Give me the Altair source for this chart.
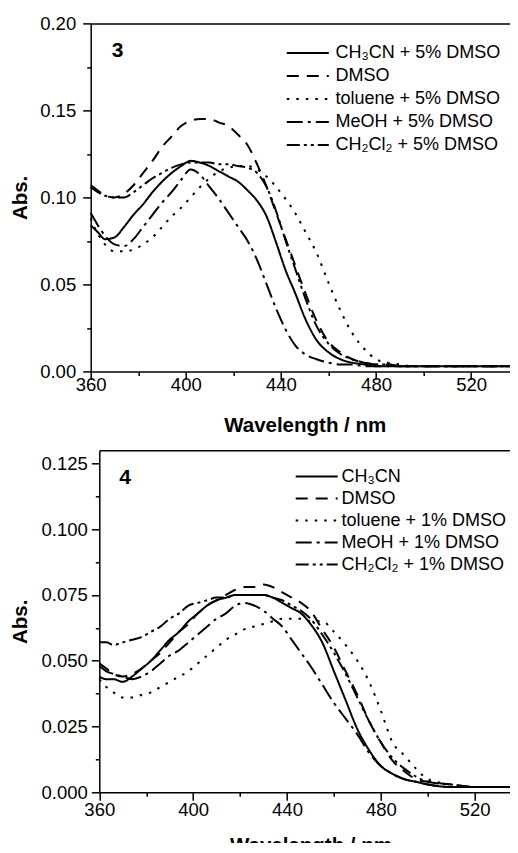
import altair as alt
import pandas as pd

wavelength = [360, 363, 366, 370, 374, 378, 382, 386, 390, 394, 398, 402, 406, 410,
              414, 418, 422, 426, 430, 434, 438, 442, 446, 450, 455, 460, 465, 470,
              475, 480, 485, 490, 495, 500, 510, 520, 530, 540]

# ---- compound 3 (top panel) ----
names_3 = ["CH\u2083CN + 5% DMSO", "DMSO", "toluene + 5% DMSO",
           "MeOH + 5% DMSO", "CH\u2082Cl\u2082 + 5% DMSO"]
ch3cn_3 = [0.084, 0.080, 0.076, 0.077, 0.083, 0.090, 0.096, 0.103, 0.109, 0.114, 0.118, 0.121,
           0.120, 0.118, 0.115, 0.112, 0.109, 0.104, 0.098, 0.089, 0.074, 0.058, 0.045, 0.031,
           0.018, 0.011, 0.007, 0.005, 0.004, 0.003, 0.003, 0.003, 0.003, 0.003, 0.003, 0.003,
           0.003, 0.003]
dmso_3 = [0.106, 0.103, 0.101, 0.100, 0.102, 0.107, 0.114, 0.121, 0.129, 0.135, 0.141, 0.144,
          0.145, 0.145, 0.143, 0.141, 0.136, 0.130, 0.119, 0.106, 0.091, 0.076, 0.061, 0.046,
          0.029, 0.017, 0.011, 0.007, 0.005, 0.004, 0.004, 0.003, 0.003, 0.003, 0.003, 0.003,
          0.003, 0.003]
toluene_3 = [0.088, 0.079, 0.073, 0.069, 0.069, 0.070, 0.073, 0.077, 0.083, 0.089, 0.094, 0.100,
             0.106, 0.111, 0.115, 0.117, 0.118, 0.118, 0.116, 0.112, 0.106, 0.099, 0.091, 0.081,
             0.068, 0.051, 0.035, 0.022, 0.013, 0.007, 0.005, 0.004, 0.003, 0.003, 0.003, 0.003,
             0.003, 0.003]
meoh_3 = [0.091, 0.084, 0.078, 0.073, 0.072, 0.076, 0.083, 0.090, 0.097, 0.103, 0.110, 0.116,
          0.113, 0.106, 0.099, 0.091, 0.083, 0.075, 0.064, 0.050, 0.036, 0.024, 0.015, 0.010,
          0.007, 0.005, 0.004, 0.004, 0.003, 0.003, 0.003, 0.003, 0.003, 0.003, 0.003, 0.003,
          0.003, 0.003]
ch2cl2_3 = [0.107, 0.104, 0.101, 0.100, 0.100, 0.103, 0.107, 0.111, 0.114, 0.117, 0.119, 0.120,
            0.120, 0.120, 0.119, 0.119, 0.118, 0.117, 0.114, 0.106, 0.092, 0.075, 0.059, 0.043,
            0.026, 0.016, 0.010, 0.007, 0.005, 0.004, 0.004, 0.003, 0.003, 0.003, 0.003, 0.003,
            0.003, 0.003]

# ---- compound 4 (bottom panel) ----
names_4 = ["CH\u2083CN", "DMSO", "toluene + 1% DMSO",
           "MeOH + 1% DMSO", "CH\u2082Cl\u2082 + 1% DMSO"]
ch3cn_4 = [0.044, 0.043, 0.043, 0.042, 0.044, 0.047, 0.050, 0.054, 0.058, 0.061, 0.065, 0.068,
           0.071, 0.073, 0.074, 0.075, 0.075, 0.075, 0.075, 0.074, 0.072, 0.070, 0.068, 0.064,
           0.057, 0.046, 0.035, 0.024, 0.016, 0.010, 0.007, 0.005, 0.004, 0.003, 0.002, 0.002,
           0.002, 0.002]
dmso_4 = [0.049, 0.047, 0.045, 0.044, 0.045, 0.047, 0.050, 0.053, 0.057, 0.061, 0.064, 0.068,
          0.071, 0.073, 0.075, 0.077, 0.078, 0.078, 0.079, 0.078, 0.076, 0.074, 0.072, 0.069,
          0.062, 0.055, 0.046, 0.037, 0.027, 0.019, 0.012, 0.008, 0.005, 0.004, 0.003, 0.002,
          0.002, 0.002]
toluene_4 = [0.043, 0.040, 0.038, 0.036, 0.036, 0.037, 0.038, 0.040, 0.042, 0.044, 0.046, 0.049,
             0.052, 0.055, 0.058, 0.060, 0.062, 0.063, 0.064, 0.065, 0.066, 0.066, 0.066, 0.065,
             0.065, 0.061, 0.056, 0.050, 0.042, 0.031, 0.019, 0.014, 0.009, 0.005, 0.003, 0.002,
             0.002, 0.002]
meoh_4 = [0.048, 0.046, 0.045, 0.044, 0.043, 0.044, 0.046, 0.049, 0.052, 0.054, 0.057, 0.060,
          0.063, 0.066, 0.068, 0.071, 0.072, 0.071, 0.069, 0.066, 0.063, 0.058, 0.053, 0.048,
          0.041, 0.034, 0.028, 0.022, 0.015, 0.010, 0.007, 0.005, 0.004, 0.003, 0.002, 0.002,
          0.002, 0.002]
ch2cl2_4 = [0.057, 0.057, 0.056, 0.057, 0.058, 0.059, 0.061, 0.063, 0.066, 0.068, 0.071, 0.072,
            0.073, 0.074, 0.074, 0.075, 0.075, 0.075, 0.075, 0.074, 0.073, 0.071, 0.069, 0.066,
            0.060, 0.053, 0.045, 0.036, 0.027, 0.019, 0.013, 0.009, 0.006, 0.004, 0.003, 0.002,
            0.002, 0.002]

x_ticks = [360, 380, 400, 420, 440, 460, 480, 500, 520, 540]
y_ticks_3 = [0.0, 0.025, 0.05, 0.075, 0.1, 0.125, 0.15, 0.175, 0.2]
y_ticks_4 = [0.0, 0.0125, 0.025, 0.0375, 0.05, 0.0625, 0.075, 0.0875, 0.1, 0.1125, 0.125]

dash_styles = [[1, 0], [12, 8], [2.5, 7], [16, 5, 3, 5], [13, 4, 3, 4, 3, 4]]

FONT = "Liberation Sans"


def panel(names, series, label, label_pos, y_max, y_ticks, y_test, y_fmt,
          width, height, x_range, y_offset, legend_x, legend_y, legend_row, label_gap,
          xlabel_pad, xtitle_pad, ylabel_pad, ytitle_pad):
    rows = []
    for name, vals in zip(names, series):
        for w, v in zip(wavelength, vals):
            rows.append({"wl": w, "a": v, "series": name})
    df = pd.DataFrame(rows)

    xscale = alt.Scale(domain=[360, 540], nice=False, zero=False, range=x_range)
    yscale = alt.Scale(domain=[0, y_max], nice=False, zero=True)
    x = alt.X("wl:Q", scale=xscale,
              axis=alt.Axis(orient="bottom", values=x_ticks, title="Wavelength / nm",
                            labelExpr="datum.value % 40 === 0 ? datum.label : ''",
                            tickSize={"condition": {"test": "datum.value % 40 === 0", "value": 8},
                                      "value": 4},
                            labelPadding=xlabel_pad, titlePadding=xtitle_pad,
                            labelOverlap=False))
    y = alt.Y("a:Q", scale=yscale,
              axis=alt.Axis(values=y_ticks, title="Abs.", offset=y_offset,
                            labelExpr=f"{y_test} ? format(datum.value, '{y_fmt}') : ''",
                            tickSize={"condition": {"test": y_test, "value": 8}, "value": 4},
                            labelPadding=ylabel_pad, titlePadding=ytitle_pad,
                            labelOverlap=False))
    # frame line along the top of the plot
    x_top = alt.X("wl:Q", scale=xscale,
                  axis=alt.Axis(orient="top", labels=False, ticks=False, title=None,
                                domain=True))

    lines = alt.Chart(df).mark_line(color="black", strokeWidth=2, interpolate="monotone",
                                    strokeCap="butt").encode(
        x=x, y=y,
        strokeDash=alt.StrokeDash(
            "series:N",
            scale=alt.Scale(domain=names, range=dash_styles),
            legend=alt.Legend(orient="none", legendX=legend_x, legendY=legend_y, title=None,
                              symbolType="stroke", symbolSize=1764, symbolStrokeWidth=2,
                              symbolStrokeColor="black", labelFont=FONT, labelFontSize=18,
                              labelColor="black", labelOffset=label_gap, clipHeight=legend_row,
                              rowPadding=0, padding=0, labelLimit=400)))

    lab_df = pd.DataFrame({"wl": [label_pos[0]], "a": [label_pos[1]], "t": [label]})
    text = alt.Chart(lab_df).mark_text(font=FONT, fontSize=21, fontWeight="bold",
                                       color="black").encode(x=x_top, y=y, text="t:N")
    return alt.layer(lines, text).properties(width=width, height=height)


top = panel(names_3, [ch3cn_3, dmso_3, toluene_3, meoh_3, ch2cl2_3], "3", (371.3, 0.184),
            0.2, y_ticks_3, "round(datum.value*1000) % 50 === 0", ".2f",
            428, 348, [0, 428], 0, 195.1, 18.1, 22.8, 5.7,
            -4.2, 21.8, 7, 9.6)
bottom = panel(names_4, [ch3cn_4, dmso_4, toluene_4, meoh_4, ch2cl2_4], "4", (371, 0.1196),
               0.13, y_ticks_4, "round(datum.value*10000) % 250 === 0", ".3f",
               431, 342, [8.6, 430.9], -8.6, 204, 15.3, 22, 2.8,
               -0.2, 16.9, 4, 10.1)

chart = alt.concat(top, bottom, columns=1, spacing=13.9).resolve_scale(
    x="independent", y="independent", strokeDash="independent"
).resolve_legend(strokeDash="independent").properties(
    autosize=alt.AutoSizeParams(type="none"),
    padding={"left": 82.7, "top": 15.4, "right": 419.3, "bottom": 819.6},
    background="white"
).configure_view(
    strokeWidth=0
).configure_axis(
    domainColor="black", domainWidth=1.5, tickColor="black", tickWidth=1.5,
    labelFont=FONT, labelFontSize=18.5, labelColor="black",
    titleFont=FONT, titleFontSize=20.5, titleFontWeight="bold", titleColor="black",
    grid=False, labelFlush=False
)

chart.save("out.html", embed_options={"renderer": "svg", "actions": False})
